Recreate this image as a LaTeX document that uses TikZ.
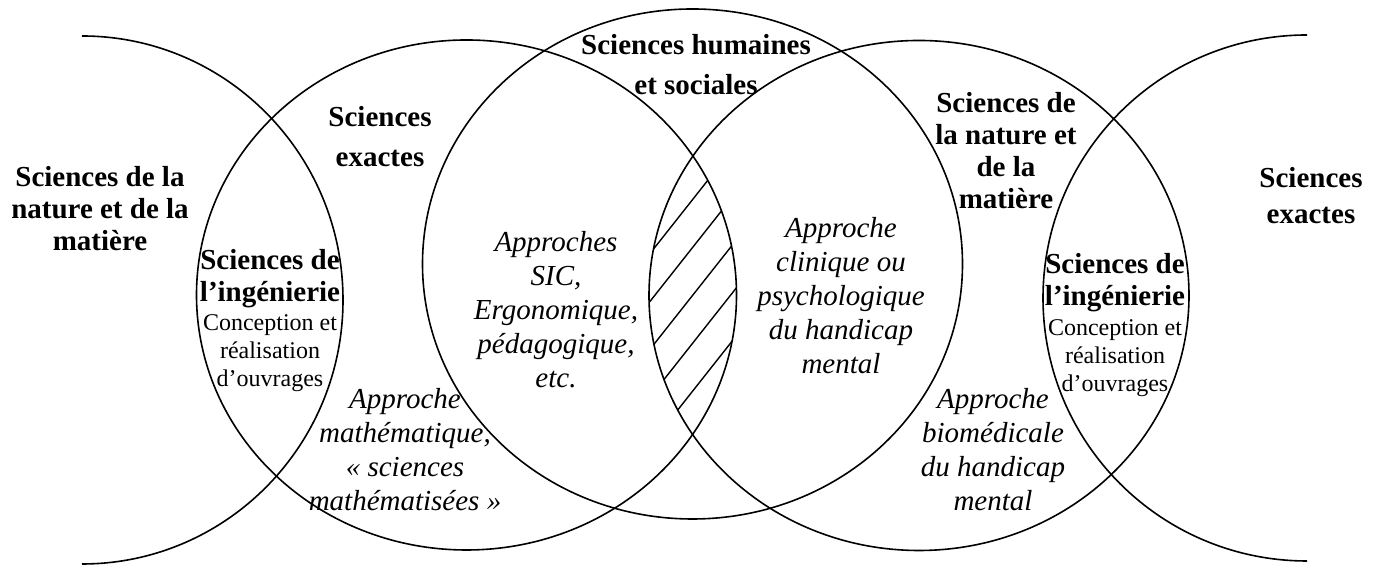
\documentclass[tikz,border=0pt]{standalone}
\usepackage{fontspec}
\setmainfont{Liberation Serif}
\usetikzlibrary{positioning}

\begin{document}
\begin{tikzpicture}[x=0.5pt,y=0.5pt,line width=0.8pt]
\tikzstyle{title}=[font=\bfseries\fontsize{14.5}{16}\selectfont, align=center, inner sep=1pt]
\tikzstyle{approach}=[font=\itshape\fontsize{14.5}{17}\selectfont, align=center, inner sep=1pt]
\tikzstyle{detail}=[font=\fontsize{12}{14}\selectfont, align=center, inner sep=1pt]
\tikzstyle{hatch}=[line width=0.7pt]

\useasboundingbox (0,0) rectangle (1382,565);

\draw (82,529) arc[start angle=90, end angle=-90, x radius=261, y radius=264];
\draw (466.5,270) ellipse [x radius=270, y radius=255];
\draw (692.5,301) ellipse [x radius=270, y radius=255];
\draw (919,269.5) ellipse [x radius=270, y radius=255];
\draw (1307,530) arc[start angle=90, end angle=270, x radius=264, y radius=263];

\begin{scope}
\clip (466.5,270) ellipse [x radius=270, y radius=255];
\clip (919,269.5) ellipse [x radius=270, y radius=255];
\foreach \k in {-2,...,2}
  \draw[hatch] ({692.5+23.3*\k-124},{269.5-18.4*\k-157}) -- ({692.5+23.3*\k+124},{269.5-18.4*\k+157});
\end{scope}

\node[title]    (N1) at (100,356)  {Sciences de la\\nature et de la\\matière};
\node[title]    (E1) at (380,428)  {Sciences\\[4pt]exactes};
\node[title]    (I1) at (270,286)  {Sciences de\\l’ingénierie};
\node[detail]   (D1) [below of=I1, node distance=37pt] {Conception et\\réalisation\\d’ouvrages};
\node[approach] (M)  at (405,115)  {Approche\\mathématique,\\« sciences\\mathématisées »};
\node[title]    (H)  at (696,500)  {Sciences humaines\\[4pt]et sociales};
\node[approach] (S)  at (556,255)  {Approches\\SIC,\\Ergonomique,\\pédagogique,\\etc.};
\node[approach] (C)  at (841,269)  {Approche\\clinique ou\\psychologique\\du handicap\\mental};
\node[title]    (N2) at (1006,414) {Sciences de\\la nature et\\de la\\matière};
\node[title]    (I2) at (1115,282) {Sciences de\\l’ingénierie};
\node[detail]   (D2) [below of=I2, node distance=37.5pt] {Conception et\\réalisation\\d’ouvrages};
\node[approach] (B)  at (993,115)  {Approche\\biomédicale\\du handicap\\mental};
\node[title]    (E2) at (1311,369) {Sciences\\[2pt]exactes};
\end{tikzpicture}
\end{document}
